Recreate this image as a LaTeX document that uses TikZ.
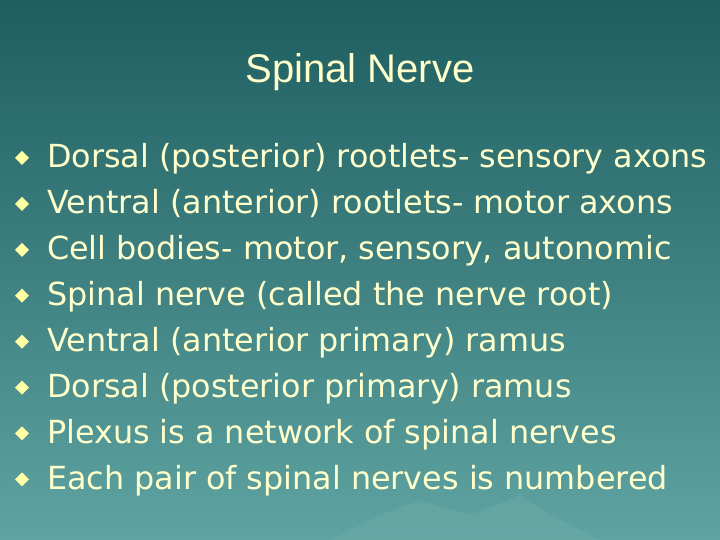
\documentclass[tikz,border=0pt]{standalone}
\usepackage{fontspec}
\setmainfont{DejaVu Sans}
\newfontfamily\titlefont{Liberation Sans}
\definecolor{bgtop}{HTML}{1E5E60}
\definecolor{bgbot}{HTML}{5FA3A2}
\definecolor{txt}{HTML}{FFFFCC}
\begin{document}
\begin{tikzpicture}[x=1pt,y=-1pt,
  item/.style={anchor=base west,text=txt,font=\fontsize{31.8}{36}\selectfont,inner sep=0}]
\useasboundingbox (0,0) rectangle (720,540);
\shade[top color=bgtop,bottom color=bgbot] (0,0) rectangle (720,540);
\fill[bgbot!80!white,opacity=0.25] (330,540) -- (380,515) -- (420,500) -- (470,515) -- (520,495) -- (560,520) -- (600,540) -- cycle;
\node[anchor=base,text=txt,font=\titlefont\fontsize{40}{46}\selectfont,inner sep=0] (title) at (360,83) {Spinal Nerve};
\foreach \t [count=\i] in {Dorsal (posterior) rootlets- sensory axons,
  Ventral (anterior) rootlets- motor axons,
  {Cell bodies- motor, sensory, autonomic},
  Spinal nerve (called the nerve root),
  Ventral (anterior primary) ramus,
  Dorsal (posterior primary) ramus,
  Plexus is a network of spinal nerves,
  Each pair of spinal nerves is numbered}{
  \pgfmathsetmacro\yy{168+45.9*(\i-1)}
  \node[item] (l\i) at (47,\yy) {\t};
  \fill[txt!80!yellow] (22,\yy-17) -- (29,\yy-10) -- (22,\yy-3) -- (15,\yy-10) -- cycle;
}
\end{tikzpicture}
\end{document}
